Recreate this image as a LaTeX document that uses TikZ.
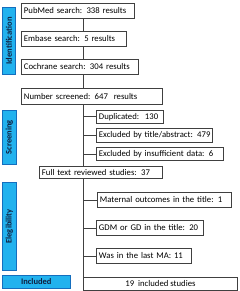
\documentclass[tikz,border=0pt]{standalone}
\usepackage{fontspec}
\setmainfont{Carlito}
\usepackage{xcolor}
\usepackage{tikz}
\usetikzlibrary{positioning,calc}

\definecolor{barblue}{RGB}{34,178,238}
\definecolor{baredge}{RGB}{20,110,190}
\definecolor{barink}{RGB}{16,32,64}
\definecolor{boxedge}{RGB}{64,64,64}

\begin{document}
\begin{tikzpicture}[x=1pt,y=-1pt,
  every node/.style={font=\fontsize{8.7}{10}\selectfont},
  box/.style={draw=boxedge,line width=0.9pt,anchor=north west,inner xsep=2.5pt,inner ysep=0pt,align=left,
    execute at begin node=\hbox\bgroup,execute at end node=\egroup},
  stage/.style={draw=baredge,line width=0.6pt,fill=barblue,anchor=north west,inner sep=0pt,
    font=\fontsize{8.5}{9}\selectfont\bfseries,text=barink},
  stagelabel/.style={rotate=90,font=\fontsize{8.5}{9}\selectfont\bfseries,text=barink,inner sep=0pt},
  link/.style={draw=boxedge,line width=0.9pt}]
\useasboundingbox (0,0) rectangle (239,291);
% stages
\node (ident) [stage,minimum width=13pt,minimum height=67pt] at (2,7) {};
\node[stagelabel] at (ident.center) {Identification};
\node (screen) [stage,minimum width=14pt,minimum height=54pt] at (2,110) {};
\node[stagelabel] at (screen.center) {Screening};
\node (elig) [stage,minimum width=14pt,minimum height=88pt] at (2,182) {};
\node[stagelabel] at (elig.center) {Elegibility};
\node (incl) [stage,minimum width=68pt,minimum height=13pt] at (2,275) {Included};
% boxes
\node (pubmed) [box,text width=108pt,minimum height=15pt] at (21,3) {PubMed search: 338 results};
\node (embase) [box,text width=100pt,minimum height=15pt] at (21,31) {Embase search: 5 results};
\node (cochrane) [box,text width=112pt,minimum height=15pt] at (21,59) {Cochrane search: 304 results};
\node (screened) [box,text width=136pt,minimum height=16pt] at (21,88) {Number screened: 647\ \ results};
\node (dup) [box,text width=62pt,minimum height=13pt] at (96,110) {Duplicated:\ \ 130};
\node (extitle) [box,text width=111pt,minimum height=14pt] at (96,128) {Excluded by title/abstract: 479};
\node (exdata) [box,text width=122pt,minimum height=13pt] at (96,147) {Excluded by insufficient data: 6};
\node (fulltext) [box,text width=118pt,minimum height=12pt] at (39,166) {Full text reviewed studies: 37};
\node (maternal) [box,text width=129pt,minimum height=15pt] at (97,192) {Maternal outcomes in the title: 1};
\node (gdm) [box,text width=102pt,minimum height=15pt] at (96,220) {GDM or GD in the title: 20};
\node (lastma) [box,text width=90pt,minimum height=15pt] at (96,248) {Was in the last MA: 11};
\node (final) [draw=boxedge,line width=0.9pt,anchor=north west,inner sep=0pt,minimum width=154pt,minimum height=13pt] at (83,277) {19\ \ included studies};
% spine and branches
\coordinate (spine) at (83,0);
\draw[link] (pubmed.south -| spine) -- (embase.north -| spine);
\draw[link] (embase.south -| spine) -- (cochrane.north -| spine);
\draw[link] (cochrane.south -| spine) -- (screened.north -| spine);
\draw[link] (screened.south -| spine) -- (fulltext.north -| spine);
\draw[link] (fulltext.south -| spine) -- (final.north west);
\foreach \b in {dup,extitle,exdata,maternal,gdm,lastma}
  \draw[link] (\b.west -| spine) -- (\b.west);
\end{tikzpicture}
\end{document}
